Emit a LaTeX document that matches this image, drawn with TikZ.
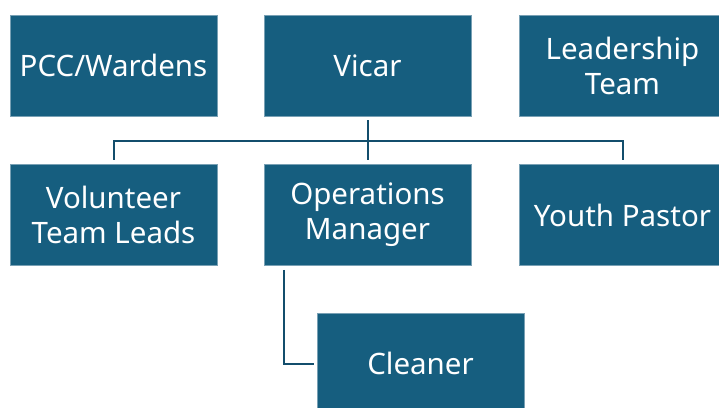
\documentclass[tikz,border=0pt]{standalone}
\usepackage{fontspec}
\setmainfont{Noto Sans}
\usepackage{xcolor}
\usepackage{tikz}
\usetikzlibrary{positioning, calc}
\definecolor{OrgBlue}{RGB}{22, 94, 127}
\definecolor{OrgLine}{RGB}{19, 78, 108}
\definecolor{OrgEdge}{RGB}{120, 160, 180}

\begin{document}
\begin{tikzpicture}[x=1pt,y=1pt,
    role/.style={fill=OrgBlue, draw=OrgEdge, line width=0.6pt,
      minimum width=207pt, minimum height=101pt, inner sep=0pt,
      align=center, text=white, font=\fontsize{29.5}{35}\selectfont},
    link/.style={draw=OrgLine, line width=2pt}]
  \path[use as bounding box] (0,0) rectangle (719,407);
  % top row
  \node[role] (pcc)   at (113.5,341.5) {PCC/Wardens};
  \node[role] (vicar) at (367.5,341.5) {Vicar};
  \node[role] (lead)  at (622.5,341.5) {Leadership\\Team};
  % reports to the vicar
  \node[role] (vol)   at (113.5,192) {Volunteer\\Team Leads};
  \node[role] (ops)   at (367.5,192) {Operations\\Manager};
  \node[role] (youth) at (622.5,192) {Youth Pastor};
  \node[role] (clean) at (420.5,43.5) {Cleaner};

  \coordinate (bus) at ($(vicar.south)+(0,-24.5)$);
  \draw[link, shorten <=4pt] (vicar.south) -- (bus);
  \draw[link, shorten >=4pt] (bus) -- (ops.north);
  \draw[link, shorten >=4pt] (bus) -| (vol.north);
  \draw[link, shorten >=4pt] (bus) -| (youth.north);
  \draw[link, shorten <=4pt, shorten >=3pt]
    ($(ops.south west)+(20,0)$) |- (clean.west);
\end{tikzpicture}
\end{document}
